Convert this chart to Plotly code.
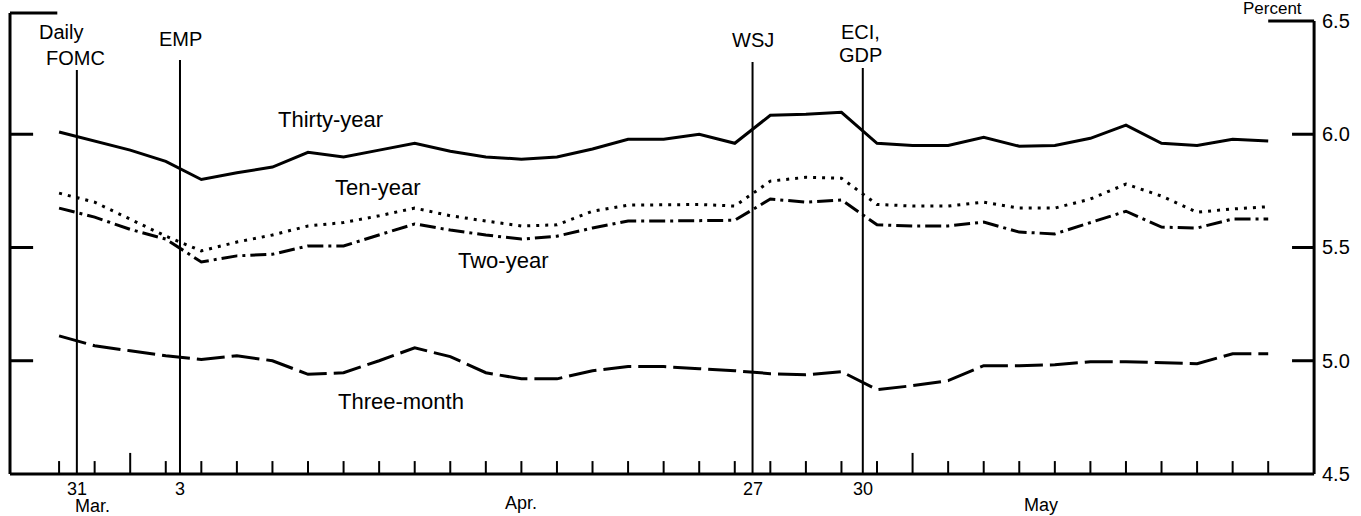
import plotly.graph_objects as go

# ---------------- data ----------------
# business days, index 0 = Mar. 30 ... index 34 = May 15
days = list(range(35))

thirty_year = [6.01, 5.97, 5.93, 5.88, 5.80, 5.83, 5.855, 5.92, 5.90, 5.93,
               5.96, 5.925, 5.90, 5.89, 5.90, 5.935, 5.978, 5.978, 6.00, 5.96,
               6.084, 6.088, 6.097, 5.96, 5.95, 5.95, 5.987, 5.947, 5.95, 5.982,
               6.04, 5.96, 5.95, 5.978, 5.97]

ten_year = [5.74, 5.70, 5.625, 5.55, 5.485, 5.524, 5.555, 5.595, 5.61, 5.64,
            5.674, 5.64, 5.617, 5.595, 5.60, 5.66, 5.687, 5.69, 5.69, 5.683,
            5.793, 5.81, 5.806, 5.69, 5.683, 5.683, 5.70, 5.674, 5.674, 5.714,
            5.78, 5.727, 5.656, 5.67, 5.68]

two_year = [5.674, 5.634, 5.58, 5.537, 5.436, 5.463, 5.47, 5.507, 5.507, 5.555,
            5.604, 5.577, 5.555, 5.537, 5.55, 5.586, 5.617, 5.617, 5.62, 5.62,
            5.714, 5.70, 5.71, 5.60, 5.595, 5.595, 5.612, 5.568, 5.56, 5.61,
            5.66, 5.59, 5.586, 5.626, 5.626]

three_month = [5.11, 5.066, 5.044, 5.022, 5.005, 5.022, 5.00, 4.94, 4.947, 5.00,
               5.057, 5.018, 4.947, 4.92, 4.92, 4.956, 4.974, 4.974, 4.965, 4.956,
               4.943, 4.938, 4.952, 4.872, 4.89, 4.912, 4.978, 4.978, 4.982, 4.996,
               4.996, 4.991, 4.987, 5.031, 5.031]

series_names = ["Thirty-year", "Ten-year", "Two-year", "Three-month"]

event_names = ["FOMC", "EMP", "WSJ", "ECI,", "GDP"]
event_pos = [0.5, 3.4, 19.5, 22.6]
event_tops = [6.284, 6.328, 6.319, 6.292]
event_day_labels = ["31", "3", "27", "30"]

month_labels = ["Mar.", "Apr.", "May"]
month_pos = [0.95, 13.0, 27.6]
month_start_days = [2, 24]

y_ticks = [4.5, 5.0, 5.5, 6.0, 6.5]

# ---------------- geometry ----------------
W, H = 1361, 516
ML, MR, MT, MB = 6, 43, 7, 35
X0, X1 = -1.4925, 35.40
Y0, Y1 = 4.469, 6.5618
X_LEFT, X_RIGHT = -1.38, 35.29
Y_BOT, Y_TOP, Y_TOP_LEFT = 4.5, 6.5, 6.535
PW, PH = W - ML - MR, H - MT - MB


def px(xp):
    return (xp - ML) / PW


def py(yp):
    return (H - MB - yp) / PH


FONT = "Liberation Sans, Arial, Helvetica, sans-serif"

fig = go.Figure()

styles = [
    dict(width=3, dash="solid"),
    dict(width=3, dash="3px,6px"),
    dict(width=3, dash="16px,5px,3px,5px"),
    dict(width=3, dash="28px,7px"),
]
for name, vals, st in zip(series_names, [thirty_year, ten_year, two_year, three_month], styles):
    fig.add_trace(go.Scatter(x=days, y=vals, mode="lines", name=name,
                             line=dict(color="black", width=st["width"], dash=st["dash"]),
                             showlegend=False, hoverinfo="skip"))

shapes = []
blk = dict(color="black", width=3)
# frame
shapes.append(dict(type="line", xref="x", yref="y", x0=X_LEFT, x1=X_LEFT, y0=Y_BOT, y1=Y_TOP_LEFT, line=blk))
shapes.append(dict(type="line", xref="x", yref="y", x0=X_LEFT, x1=-0.05, y0=Y_TOP_LEFT, y1=Y_TOP_LEFT, line=blk))
shapes.append(dict(type="line", xref="x", yref="y", x0=X_RIGHT, x1=X_RIGHT, y0=Y_BOT, y1=Y_TOP, line=blk))
shapes.append(dict(type="line", xref="x", yref="y", x0=34.0, x1=X_RIGHT, y0=Y_TOP, y1=Y_TOP, line=blk))
shapes.append(dict(type="line", xref="x", yref="y", x0=X_LEFT, x1=X_RIGHT, y0=Y_BOT, y1=Y_BOT, line=blk))
# y ticks on both sides
for v in y_ticks[1:-1]:
    shapes.append(dict(type="line", xref="x", yref="y", x0=X_LEFT, x1=-0.73, y0=v, y1=v, line=blk))
    shapes.append(dict(type="line", xref="x", yref="y", x0=34.67, x1=X_RIGHT, y0=v, y1=v, line=blk))
# day ticks
for d in days:
    h = 0.093 if d in month_start_days else 0.057
    shapes.append(dict(type="line", xref="x", yref="y", x0=d, x1=d, y0=Y_BOT, y1=Y_BOT + h,
                       line=dict(color="black", width=2)))
# event lines
for xe, top in zip(event_pos, event_tops):
    shapes.append(dict(type="line", xref="x", yref="y", x0=xe, x1=xe, y0=Y_BOT, y1=top,
                       line=dict(color="black", width=2)))

ann = []


def add_text(text, xp, yp, size=20, xanchor="center"):
    ann.append(dict(text=text, xref="paper", yref="paper", x=px(xp), y=py(yp),
                    xanchor=xanchor, yanchor="middle", showarrow=False,
                    font=dict(family=FONT, size=size, color="black")))


# event labels
add_text("Daily", 61, 32)
add_text(event_names[0], 75, 58.5)
add_text(event_names[1], 180, 39)
add_text(event_names[2], 753, 39.5)
add_text(event_names[3], 860, 32)
add_text(event_names[4], 860, 54.5)
# series labels
add_text(series_names[0], 330, 119, size=22)
add_text(series_names[1], 378, 187, size=22)
add_text(series_names[2], 503, 260, size=22)
add_text(series_names[3], 401, 401, size=22)
# x labels: day numbers under event lines
for xe, lab in zip(event_pos, event_day_labels):
    ann.append(dict(text=lab, xref="x", yref="paper", x=xe, y=py(489),
                    xanchor="center", yanchor="middle", showarrow=False,
                    font=dict(family=FONT, size=18, color="black")))
for xm, lab, yp in zip(month_pos, month_labels, [506, 503, 505]):
    ann.append(dict(text=lab, xref="x", yref="paper", x=xm, y=py(yp),
                    xanchor="center", yanchor="middle", showarrow=False,
                    font=dict(family=FONT, size=18, color="black")))
# units
add_text("Percent", 1272, 9, size=17)

fig.update_layout(
    template="none",
    width=W, height=H,
    margin=dict(l=ML, r=MR, t=MT, b=MB, pad=0),
    paper_bgcolor="white", plot_bgcolor="white",
    shapes=shapes, annotations=ann,
    xaxis=dict(range=[X0, X1], showgrid=False, zeroline=False, showline=False,
               showticklabels=False, ticks="", automargin=False, fixedrange=True),
    yaxis=dict(range=[Y0, Y1], side="right", showgrid=False, zeroline=False, showline=False,
               tickvals=y_ticks, ticktext=[f"{v:.1f}" for v in y_ticks], ticks="",
               ticklabelstandoff=3,
               tickfont=dict(family=FONT, size=20, color="black"),
               automargin=False, fixedrange=True),
)

fig.write_html("out.html", config={"displayModeBar": False},
               post_script="document.body.style.margin='0px';document.body.style.overflow='hidden';")
